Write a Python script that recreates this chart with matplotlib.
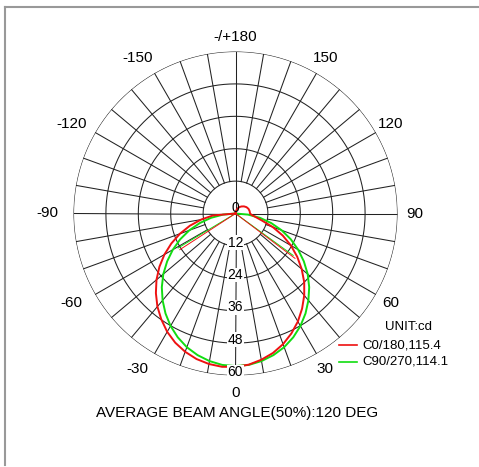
import numpy as np
import matplotlib.pyplot as plt
from matplotlib.lines import Line2D

plt.rcParams['font.family'] = ['Liberation Sans', 'DejaVu Sans']

# gamma angles in degrees (0 = straight down, positive to the right)
gamma_main = list(range(-90, 91, 5))
gamma_back = list(range(100, 181, 10))

# C0/180 plane, chart units (0..60 scale)
c0_main = [0.0, 8.4, 12.9, 17.5, 21.9, 26.2, 30.4, 34.4, 38.2, 41.7,
           45.0, 47.9, 50.6, 52.8, 54.5, 55.8, 56.6, 57.0, 56.8, 56.2,
           55.0, 53.5, 51.5, 49.0, 46.2, 43.0, 39.6, 36.0, 32.0, 27.9,
           23.7, 19.3, 14.7, 10.2, 7.6, 6.0, 5.4]
c0_back = [5.3, 5.1, 4.7, 4.1, 3.4, 2.7, 1.8, 0.9, 0.0]

# C90/270 plane
c90_main = [0.0, 4.6, 9.2, 13.7, 18.2, 22.6, 26.8, 30.9, 34.9, 38.6,
            42.0, 45.2, 48.1, 50.6, 52.7, 54.3, 55.5, 56.3, 56.5, 56.3,
            55.5, 54.3, 52.7, 50.6, 48.1, 45.2, 42.0, 38.6, 34.9, 30.9,
            26.8, 22.6, 18.2, 13.7, 9.2, 4.6, 0.0]

# half-intensity beam lines
beam_c0_deg = [-57, 53]
beam_c0_val = [24.6, 27.6]
beam_c90_deg = [-59, 54]
beam_c90_val = [24.8, 26.4]

ring_values = [12, 24, 36, 48, 60]
angle_labels = [0, 30, 60, 90, 120, 150, 180, -150, -120, -90, -60, -30]

RED = '#ee1111'
GREEN = '#11dd11'
GRID = '#222222'

W, H = 479, 467
fig = plt.figure(figsize=(W / 100, H / 100), dpi=100)

cx, cy, R = 235.5, 213.5, 162
ax = fig.add_axes([(cx - R) / W, (H - cy - R) / H, 2 * R / W, 2 * R / H],
                  projection='polar')
ax.set_theta_zero_location('S')
ax.set_theta_direction(1)
ax.set_ylim(0, 60)
ax.grid(False)
ax.set_xticks([])
ax.set_yticks([])
ax.spines['polar'].set_visible(False)
ax.patch.set_visible(False)

# grid: rings and spokes
t = np.linspace(0, 2 * np.pi, 721)
for r in ring_values:
    ax.plot(t, np.full_like(t, r), color=GRID, lw=0.75, zorder=1)
for a in range(0, 360, 10):
    r0 = 0 if a % 90 == 0 else 12
    ax.plot([np.radians(a)] * 2, [r0, 60], color=GRID, lw=0.75, zorder=1)

# curves
th_main = np.radians(gamma_main)
ax.plot(np.concatenate([th_main, np.radians(gamma_back)]),
        c0_main + c0_back, color=RED, lw=1.4, zorder=4)
ax.plot(th_main, c90_main, color=GREEN, lw=1.4, zorder=3)
for d, v in zip(beam_c0_deg, beam_c0_val):
    ax.plot([np.radians(d)] * 2, [0, v], color=RED, lw=0.7, zorder=4)
for d, v in zip(beam_c90_deg, beam_c90_val):
    ax.plot([np.radians(d)] * 2, [0, v], color=GREEN, lw=0.7, zorder=3)

# ring value labels along the nadir axis
ax.text(np.pi, 2.2, '0', ha='center', va='center', fontsize=10, zorder=5)
for r in ring_values:
    ax.text(0, r - 1.2, str(r), ha='center', va='center', fontsize=10,
            zorder=5, bbox=dict(facecolor='white', edgecolor='none', pad=0.3))

# angle labels (negative ones sit a little further out to the left)
for a in angle_labels:
    lab = '-/+180' if a == 180 else str(a)
    dx = -6 if a < 0 else 0
    dy = -2 if a == 180 else 0
    ax.annotate(lab, xy=(np.radians(a), 66.5), xytext=(dx, dy),
                textcoords='offset points', ha='center', va='center',
                fontsize=11, annotation_clip=False)

# legend
def fx(x):
    return x / W


def fy(y):
    return 1 - y / H


fig.text(fx(409), fy(327), 'UNIT:cd', ha='center', va='center', fontsize=9.5)
fig.add_artist(Line2D([fx(339), fx(357)], [fy(345)] * 2, color=RED, lw=1.2))
fig.text(fx(362), fy(345), 'C0/180,115.4', ha='left', va='center', fontsize=9.5)
fig.add_artist(Line2D([fx(339), fx(357)], [fy(362)] * 2, color=GREEN, lw=1.2))
fig.text(fx(362), fy(362), 'C90/270,114.1', ha='left', va='center', fontsize=9.5)

fig.text(fx(237), fy(413), 'AVERAGE BEAM ANGLE(50%):120 DEG', ha='center',
         va='center', fontsize=11)

# frame (top and left edges)
fig.add_artist(Line2D([fx(5), fx(479)], [fy(7)] * 2, color='#999999', lw=1.5))
fig.add_artist(Line2D([fx(5)] * 2, [fy(7), fy(465)], color='#999999', lw=1.5))

fig.savefig('out.png', dpi=100, facecolor='white')
